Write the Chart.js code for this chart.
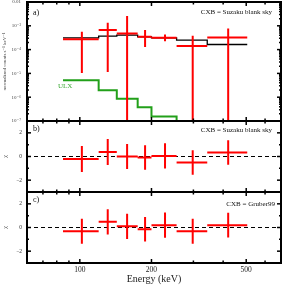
<!DOCTYPE html>
<html>
<head>
<meta charset="utf-8">
<script src="https://cdn.jsdelivr.net/npm/chart.js@4.4.0/dist/chart.umd.min.js"></script>
<style>
body{margin:0;background:#fff;}
#wrap{position:relative;width:283px;height:286px;overflow:hidden;}
#wrap canvas{position:absolute;left:0;}
</style>
</head>
<body>
<div id="wrap">
<canvas id="cA" width="283" height="122" style="top:0px"></canvas>
<canvas id="cB" width="283" height="75" style="top:119px"></canvas>
<canvas id="cC" width="283" height="96" style="top:190px"></canvas>
</div>
<script>
// energy bins (keV)
var binLo  = [85, 120, 143, 175, 200, 255, 343];
var binHi  = [120, 143, 175, 200, 255, 343, 505];
var binMid = [102, 131, 158, 188, 228, 298, 420];

// panel a: spectrum (normalized counts s^-1 keV^-1)
var specVal  = [2.75e-4, 6.6e-4, 4.8e-4, 3.44e-4, 3.12e-4, 1.43e-4, 3.24e-4];
var specUp   = [5.6e-4, 1.34e-3, 2.57e-3, 6.6e-4, 4.3e-4, 3.8e-4, 7.76e-4];
var specDown = [1.04e-5, 1.15e-5, 1e-9, 1.3e-4, 2.26e-4, 1e-9, 1e-9];
var cxbModel = [3.12e-4, 3.67e-4, 4.05e-4, 3.44e-4, 3.12e-4, 2.5e-4, 1.64e-4];
var ulxModel = [5.1e-6, 1.94e-6, 8.65e-7, 3.82e-7, 1.55e-7, 1e-9, 1e-9];

// panel b / c: residuals (chi)
var chiB = [-0.22, 0.38, 0.0, -0.08, 0.05, -0.51, 0.34];
var errB = [1.1, 1.09, 1.05, 1.04, 1.07, 1.03, 1.03];
var chiC = [-0.32, 0.48, 0.1, -0.15, 0.2, -0.32, 0.2];
var errC = [1.05, 1.07, 1.07, 1.04, 1.07, 1.05, 1.05];

// axes
var xMin = 60, xMax = 700;
var xTickVals = [70, 80, 90, 100, 200, 300, 400, 500, 600];
var xTickMajor = [100, 200, 500];
var yDecades = [1e-7, 1e-6, 1e-5, 1e-4, 1e-3, 1e-2];
var chiTicks = [-2, 0, 2];
var chiMinor = [-1, 1];

var serif = "'Liberation Serif', 'DejaVu Serif', serif";

function hBars(lo, hi, v) {
    var pts = [];
    for (var i = 0; i < v.length; i++) {
        pts.push({x: lo[i], y: v[i]}, {x: hi[i], y: v[i]}, {x: hi[i], y: null});
    }
    return pts;
}
function vBars(mid, a, b) {
    var pts = [];
    for (var i = 0; i < mid.length; i++) {
        pts.push({x: mid[i], y: a[i]}, {x: mid[i], y: b[i]}, {x: mid[i], y: null});
    }
    return pts;
}
function steps(edgesLo, edgesHi, v) {
    var pts = [];
    for (var i = 0; i < v.length; i++) pts.push({x: edgesLo[i], y: v[i]});
    pts.push({x: edgesHi[v.length - 1], y: v[v.length - 1]});
    return pts;
}
function sup(n) {
    var m = {'-': '\u207B', '0': '\u2070', '1': '\u00B9', '2': '\u00B2', '3': '\u00B3', '4': '\u2074',
        '5': '\u2075', '6': '\u2076', '7': '\u2077', '8': '\u2078', '9': '\u2079'};
    return String(n).split('').map(c => m[c]).join('');
}

var framePlugin = {
    id: 'frame',
    afterDatasetsDraw(chart, args, o) {
        var ctx = chart.ctx, a = chart.chartArea, sx = chart.scales.x, sy = chart.scales.y;
        ctx.save();
        ctx.strokeStyle = '#000';
        ctx.lineWidth = 1.5;
        function ln(x1, y1, x2, y2) { ctx.beginPath(); ctx.moveTo(x1, y1); ctx.lineTo(x2, y2); ctx.stroke(); }
        xTickVals.forEach(v => {
            var px = sx.getPixelForValue(v);
            var len = xTickMajor.includes(v) ? 4 : 2.5;
            ln(px, a.bottom, px, a.bottom - len);
            ln(px, a.top, px, a.top + len);
        });
        o.yMajor.forEach(v => {
            var py = sy.getPixelForValue(v);
            ln(a.left, py, a.left + 4, py);
            ln(a.right, py, a.right - 4, py);
        });
        o.yMinor.forEach(v => {
            var py = sy.getPixelForValue(v);
            ln(a.left, py, a.left + 2, py);
            ln(a.right, py, a.right - 2, py);
        });
        ctx.lineWidth = 2;
        ctx.strokeRect(a.left, a.top, a.right - a.left, a.bottom - a.top);
        ctx.fillStyle = '#111';
        ctx.textBaseline = 'middle';
        ctx.font = '8px ' + serif;
        ctx.textAlign = 'left';
        ctx.fillText(o.label, a.left + 6, a.top + o.labelDy);
        ctx.font = '7px ' + serif;
        ctx.textAlign = 'right';
        ctx.fillText(o.note, a.right - o.noteDx, a.top + o.noteDy);
        if (o.ulx) {
            ctx.fillStyle = '#3aa832';
            ctx.textAlign = 'left';
            ctx.fillText('ULX', sx.getPixelForValue(81), sy.getPixelForValue(3e-6));
        }
        ctx.restore();
    }
};

function redSets(hPts, vPts) {
    return [
        {data: hPts, borderColor: '#ff0000', borderWidth: 2, showLine: true, pointRadius: 0, spanGaps: false},
        {data: vPts, borderColor: '#ff0000', borderWidth: 2, showLine: true, pointRadius: 0, spanGaps: false}
    ];
}

function fitY(s) {
    s.width = 27;
    s.paddingTop = 0;
    s.paddingBottom = 0;
}

function xScale(show) {
    return {
        type: 'logarithmic', min: xMin, max: xMax, display: show,
        grid: {display: false, drawTicks: false, tickLength: 0}, border: {display: false},
        afterBuildTicks: s => { s.ticks = xTickMajor.map(v => ({value: v})); },
        afterFit: s => { if (show) s.height = 23; },
        ticks: {callback: v => String(v), color: '#222', padding: 3, maxRotation: 0, autoSkip: false,
            font: {family: serif, size: 7.5}},
        title: {display: show, text: 'Energy (keV)', color: '#222', padding: {top: 0, bottom: 1},
            font: {family: serif, size: 10}}
    };
}

function chiScale() {
    return {
        type: 'linear', min: -3, max: 3,
        grid: {display: false, drawTicks: false, tickLength: 0}, border: {display: false},
        afterBuildTicks: s => { s.ticks = chiTicks.map(v => ({value: v})); },
        afterFit: fitY,
        ticks: {callback: v => (v < 0 ? '\u2212' + (-v) : String(v)), color: '#333', padding: 5,
            font: {family: serif, size: 5.5}},
        title: {display: true, text: '\u03C7', color: '#333', padding: {top: 2, bottom: 0},
            font: {family: serif, size: 6}}
    };
}

function zeroLine() {
    return {data: [{x: xMin, y: 0}, {x: xMax, y: 0}], borderColor: '#000', borderWidth: 1.2,
        borderDash: [4, 3], showLine: true, pointRadius: 0};
}

var common = {
    responsive: false, animation: false, events: [],
    plugins: {legend: {display: false}, tooltip: {enabled: false}}
};

new Chart(document.getElementById('cA'), {
    type: 'scatter',
    data: {
        datasets: redSets(hBars(binLo, binHi, specVal), vBars(binMid, specDown, specUp)).concat([
            {data: steps(binLo, binHi, cxbModel), borderColor: '#000', borderWidth: 1.3, showLine: true,
                pointRadius: 0, stepped: 'before'},
            {data: steps(binLo, binHi, ulxModel), borderColor: '#22a01a', borderWidth: 2, showLine: true,
                pointRadius: 0, stepped: 'before'}
        ])
    },
    options: Object.assign({}, common, {
        layout: {padding: {top: 2, right: 2, left: 0, bottom: 1}},
        plugins: Object.assign({}, common.plugins, {
            frame: {yMajor: yDecades, yMinor: [].concat(...yDecades.slice(0, 5).map(d => [2, 3, 4, 5, 6, 7, 8, 9].map(k => k * d))),
                label: 'a)', labelDy: 11, note: 'CXB = Suzaku blank sky', noteDx: 9, noteDy: 10.5, ulx: true}
        }),
        scales: {
            x: xScale(false),
            y: {
                type: 'logarithmic', min: 1e-7, max: 1e-2,
                grid: {display: false, drawTicks: false, tickLength: 0}, border: {display: false},
                afterBuildTicks: s => { s.ticks = yDecades.map(v => ({value: v})); },
                afterFit: fitY,
                ticks: {
                    callback: v => (v >= 1e-2 ? '0.01' : '10' + sup(Math.round(Math.log10(v)))),
                    color: '#444', padding: 6, font: {family: serif, size: 5}
                },
                title: {display: true, text: 'normalized counts s\u207B\u00B9 keV\u207B\u00B9', color: '#333',
                    padding: {top: 2, bottom: 0}, font: {family: serif, size: 5}}
            }
        }
    }),
    plugins: [framePlugin]
});

new Chart(document.getElementById('cB'), {
    type: 'scatter',
    data: {
        datasets: redSets(hBars(binLo, binHi, chiB),
            vBars(binMid, chiB.map((v, i) => v - errB[i]), chiB.map((v, i) => v + errB[i]))).concat([zeroLine()])
    },
    options: Object.assign({}, common, {
        layout: {padding: {top: 2, right: 2, left: 0, bottom: 2}},
        plugins: Object.assign({}, common.plugins, {
            frame: {yMajor: chiTicks, yMinor: chiMinor, label: 'b)', labelDy: 8, note: 'CXB = Suzaku blank sky',
                noteDx: 9, noteDy: 9}
        }),
        scales: {x: xScale(false), y: chiScale()}
    }),
    plugins: [framePlugin]
});

new Chart(document.getElementById('cC'), {
    type: 'scatter',
    data: {
        datasets: redSets(hBars(binLo, binHi, chiC),
            vBars(binMid, chiC.map((v, i) => v - errC[i]), chiC.map((v, i) => v + errC[i]))).concat([zeroLine()])
    },
    options: Object.assign({}, common, {
        layout: {padding: {top: 2, right: 2, left: 0, bottom: 0}},
        plugins: Object.assign({}, common.plugins, {
            frame: {yMajor: chiTicks, yMinor: chiMinor, label: 'c)', labelDy: 8, note: 'CXB = Gruber99',
                noteDx: 6, noteDy: 12}
        }),
        scales: {x: xScale(true), y: chiScale()}
    }),
    plugins: [framePlugin]
});
</script>
</body>
</html>
